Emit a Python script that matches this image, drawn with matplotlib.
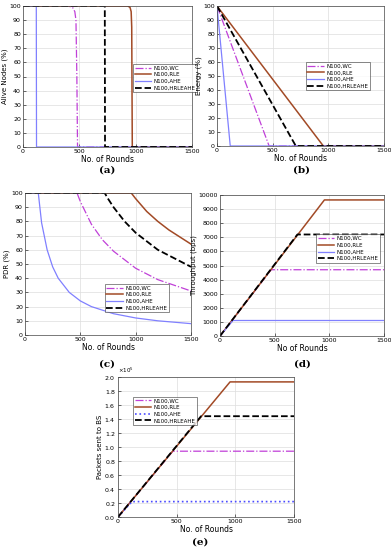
import matplotlib.pyplot as plt

labels = ['N100,WC', 'N100,RLE', 'N100,AHE', 'N100,HRLEAHE']

# (a) alive nodes
alive_x = {
    'WC': [0, 400, 440, 460, 470, 478, 484, 1500],
    'RLE': [0, 930, 950, 960, 965, 970, 1500],
    'AHE': [0, 118, 120, 1500],
    'HRLEAHE': [0, 726, 728, 1500],
}
alive_y = {
    'WC': [100, 100, 99, 96, 90, 50, 0, 0],
    'RLE': [100, 100, 99, 96, 85, 0, 0],
    'AHE': [100, 100, 0, 0],
    'HRLEAHE': [100, 100, 0, 0],
}

# (b) energy
energy_x = {
    'WC': [0, 468, 1500],
    'RLE': [0, 955, 1500],
    'AHE': [0, 119, 1500],
    'HRLEAHE': [0, 708, 1500],
}
energy_y = {k: [100, 0, 0] for k in energy_x}

# (c) PDR
pdr_x = {
    'WC': [0, 470, 500, 600, 700, 800, 1000, 1200, 1500],
    'RLE': [0, 960, 1000, 1100, 1200, 1300, 1400, 1500],
    'AHE': [0, 120, 150, 200, 250, 300, 400, 500, 600, 800, 1000, 1200, 1500],
    'HRLEAHE': [0, 720, 750, 800, 900, 1000, 1200, 1500],
}
pdr_y = {
    'WC': [100, 100, 94, 78, 67, 59, 47, 39, 31],
    'RLE': [100, 100, 96, 87, 80, 74, 69, 64],
    'AHE': [100, 100, 79, 60, 48, 40, 30, 24, 20, 15, 12, 10, 8],
    'HRLEAHE': [100, 100, 96, 90, 80, 72, 60, 48],
}

# (d) throughput
thr_x = energy_x
thr_y = {
    'WC': [0, 4700, 4700],
    'RLE': [0, 9650, 9650],
    'AHE': [0, 1100, 1100],
    'HRLEAHE': [0, 7200, 7200],
}

# (e) packets to BS
pk_x = energy_x
pk_y = {
    'WC': [0, 0.94e5, 0.94e5],
    'RLE': [0, 1.93e5, 1.93e5],
    'AHE': [0, 0.22e5, 0.22e5],
    'HRLEAHE': [0, 1.44e5, 1.44e5],
}

keys = ['WC', 'RLE', 'AHE', 'HRLEAHE']
estilo = {
    'WC': dict(color='#c040d8', ls='-.', lw=0.9),
    'RLE': dict(color='#a24a26', ls='-', lw=1.1),
    'AHE': dict(color='#8080ff', ls='-', lw=0.9),
    'HRLEAHE': dict(color='black', ls='--', lw=1.3),
}

fig = plt.figure(figsize=(3.91, 5.5), dpi=100)
W, H = 391, 550


def ejes(l, r, t, b):
    return fig.add_axes([l / W, 1 - b / H, (r - l) / W, (b - t) / H])


def dibujar(ax, xs, ys, ylabel, xlabel, yticks, leg_box, e_style=False):
    for k, lab in zip(keys, labels):
        st = dict(estilo[k])
        if e_style and k == 'AHE':
            st = dict(color='#4a4aff', ls=':', lw=1.2)
        ax.plot(xs[k], ys[k], label=lab, **st)
    ax.set_xlim(0, 1500)
    ax.set_xticks([0, 500, 1000, 1500])
    ax.set_ylim(yticks[0], yticks[-1])
    ax.set_yticks(yticks)
    ax.grid(True, color='#dddddd', lw=0.5)
    ax.tick_params(labelsize=4.5, length=2, width=0.4, pad=1.5, direction='in')
    for s in ax.spines.values():
        s.set_linewidth(0.5)
        s.set_color('#444444')
    ax.set_ylabel(ylabel, fontsize=5, labelpad=1)
    ax.set_xlabel(xlabel, fontsize=5.5, labelpad=1)
    leg = ax.legend(loc='upper left', bbox_to_anchor=leg_box, fontsize=4,
                    frameon=True, fancybox=False, borderpad=0.3,
                    handlelength=3, labelspacing=0.3, handletextpad=0.4,
                    borderaxespad=0)
    leg.get_frame().set_linewidth(0.5)
    leg.get_frame().set_edgecolor('#333333')


axa = ejes(23, 192, 6, 147)
dibujar(axa, alive_x, alive_y, 'Alive Nodes (%)', 'No. of Rounds',
        list(range(0, 101, 10)), (0.65, 0.59))

axb = ejes(217, 384, 6, 146)
dibujar(axb, energy_x, energy_y, 'Energy (%)', 'No. of Rounds',
        list(range(0, 101, 10)), (0.53, 0.60))

axc = ejes(25, 191, 193, 335)
dibujar(axc, pdr_x, pdr_y, 'PDR (%)', 'No. of Rounds',
        list(range(0, 101, 10)), (0.48, 0.36))

axd = ejes(220, 384, 195, 336)
dibujar(axd, thr_x, thr_y, 'Throughput (bps)', 'No of Rounds',
        list(range(0, 10001, 1000)), (0.585, 0.72))

axe = ejes(118, 294, 377, 517)
dibujar(axe, pk_x, pk_y, 'Packets sent to BS', 'No. of Rounds',
        [i * 0.2e5 for i in range(11)], (0.085, 0.86), e_style=True)
axe.ticklabel_format(axis='y', style='sci', scilimits=(5, 5), useMathText=True)
axe.yaxis.get_offset_text().set_fontsize(4)

for txt, x, y in [('(a)', 107, 170), ('(b)', 302, 170), ('(c)', 107, 364),
                  ('(d)', 302, 364), ('(e)', 200, 542)]:
    fig.text(x / W, 1 - y / H, txt, fontsize=7.5, fontweight='bold',
             family='DejaVu Serif', ha='center', va='center')

fig.savefig('out.png', dpi=100)
